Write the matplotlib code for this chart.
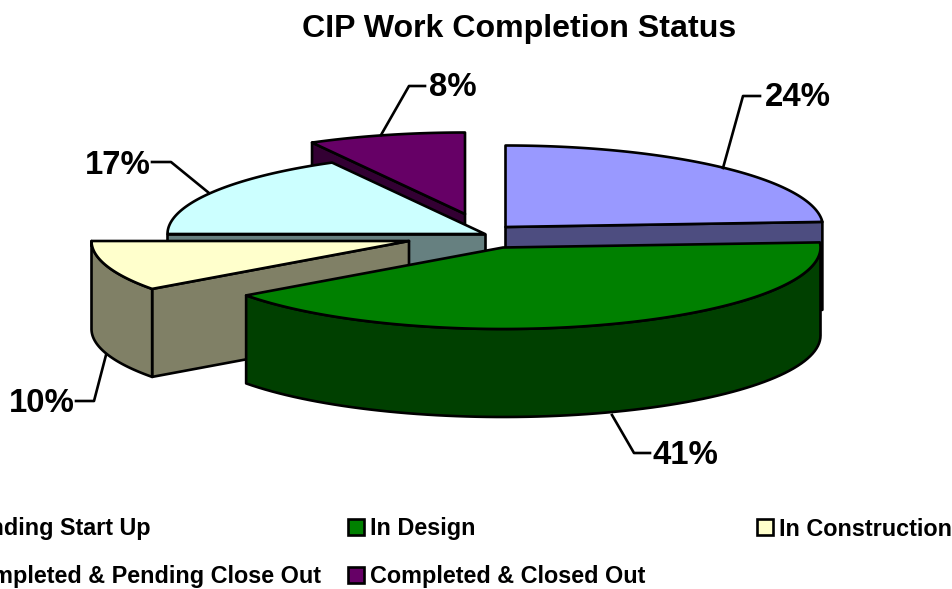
import numpy as np
import matplotlib
matplotlib.use('Agg')
import matplotlib.pyplot as plt
from matplotlib.patches import Polygon, Rectangle

plt.rcParams['font.family'] = ['Liberation Sans', 'DejaVu Sans']

title = 'CIP Work Completion Status'
names = ['Pending Start Up', 'In Design', 'In Construction',
         'Completed & Pending Close Out', 'Completed & Closed Out']
values = [24, 41, 10, 17, 8]
top_colors = ['#9999FF', '#008000', '#FFFFCC', '#CCFFFF', '#660066']
wall_colors = ['#4D4D80', '#004000', '#808066', '#668080', '#330033']

# the pie drawn in pixels, y going down
RX, RY, DEPTH = 317.5, 81.5, 88
apex = [(505.5, 227), (503, 247.5), (409, 241), (485, 234), (465, 214)]
draw_order = [4, 0, 3, 2, 1]  # back to front
LW = 1.9

fig = plt.figure(figsize=(9.53, 5.89), dpi=100)
ax = fig.add_axes([0, 0, 1, 1])
ax.set_xlim(0, 953)
ax.set_ylim(589, 0)
ax.axis('off')


def rim(center, deg, drop=0):
    # angle is clockwise from 12 o'clock
    t = np.radians(deg)
    return np.column_stack([center[0] + RX * np.sin(t),
                            center[1] - RY * np.cos(t) + drop])


def add_poly(points, color):
    ax.add_patch(Polygon(points, closed=True, facecolor=color, edgecolor='black',
                         linewidth=LW, joinstyle='round'))


edges = np.cumsum([0] + values) * 3.6
for i in draw_order:
    c = apex[i]
    a, b = edges[i], edges[i + 1]
    # side walls that face the viewer
    for deg, show in ((a, np.sin(np.radians(a)) < -1e-6), (b, np.sin(np.radians(b)) > 1e-6)):
        if show:
            p = rim(c, np.array([deg]))[0]
            add_poly([c, p, (p[0], p[1] + DEPTH), (c[0], c[1] + DEPTH)], wall_colors[i])
    # curved outer wall, only the front half of the ellipse
    lo, hi = max(a, 90), min(b, 270)
    if lo < hi:
        arc = np.linspace(lo, hi, 80)
        add_poly(np.vstack([rim(c, arc), rim(c, arc[::-1], DEPTH)]), wall_colors[i])
    arc = np.linspace(a, b, 120)
    add_poly(np.vstack([[c], rim(c, arc)]), top_colors[i])

# data labels with their leader lines
labels = ['%d%%' % v for v in values]
label_pos = [(765, 98), (653, 455), (9, 403), (85, 166), (429, 88)]
leaders = [[(760, 96), (743, 96), (723, 168)],
           [(650, 453), (634, 453), (612, 415)],
           [(76, 401), (94, 401), (106, 355)],
           [(152, 162), (171, 162), (209, 193)],
           [(425, 86), (409, 86), (381, 135)]]
for lab, pos, line in zip(labels, label_pos, leaders):
    ax.text(pos[0], pos[1], lab, fontsize=23.7, fontweight='bold', ha='left', va='center')
    ax.plot([q[0] for q in line], [q[1] for q in line], color='black', lw=LW)

ax.text(519, 29, title, fontsize=23.1, fontweight='bold', ha='center', va='center')

# legend, first column runs off the left side like the original
legend_x = [-61, 348, 757]
legend_y = [527, 575]
for n, name in enumerate(names):
    x = legend_x[n % 3]
    y = legend_y[n // 3]
    ax.add_patch(Rectangle((x, y - 8), 16, 16, facecolor=top_colors[n], edgecolor='black',
                           linewidth=LW, clip_on=False))
    ax.text(x + 22, y + 2, name, fontsize=16.8, fontweight='bold', ha='left', va='center')

fig.savefig('out.png', dpi=100)
